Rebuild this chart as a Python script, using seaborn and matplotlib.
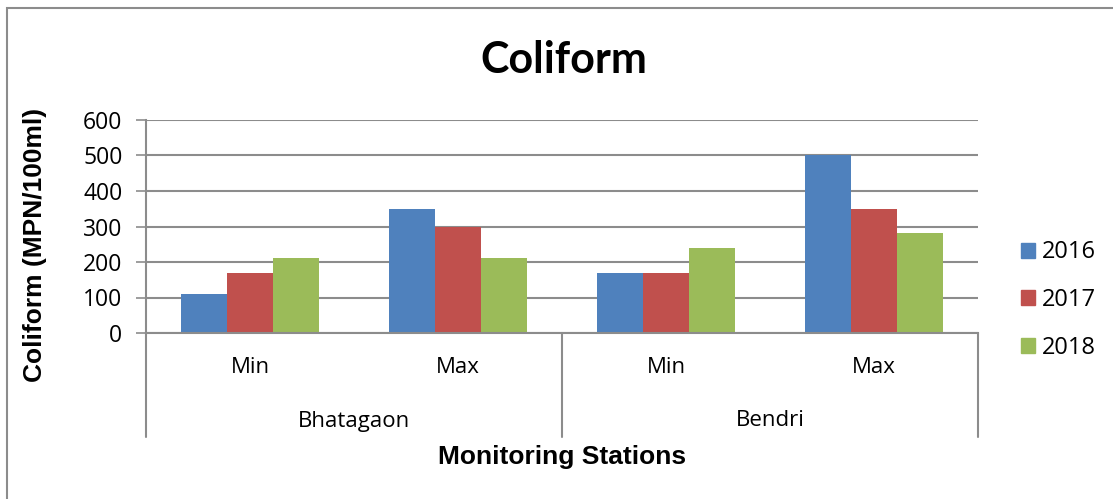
import numpy as np
import pandas as pd
import matplotlib.pyplot as plt
import seaborn as sns
from matplotlib.patches import Rectangle
from matplotlib.transforms import blended_transform_factory

sns.set_theme(style="white")
plt.rcParams['font.family'] = ['Open Sans', 'DejaVu Sans']
plt.rcParams['text.color'] = 'black'
plt.rcParams['xtick.labelcolor'] = 'black'
plt.rcParams['ytick.labelcolor'] = 'black'

# ------------------------------------------------------------------
# Data
# ------------------------------------------------------------------
stations = ['Bhatagaon', 'Bhatagaon', 'Bendri', 'Bendri']
stats = ['Min', 'Max', 'Min', 'Max']
years = ['2016', '2017', '2018']
vals_2016 = [110, 350, 170, 500]
vals_2017 = [170, 300, 170, 350]
vals_2018 = [210, 210, 240, 283]
colors = ['#4F81BD', '#C0504D', '#9BBB59']

keys = [f"{s}|{m}" for s, m in zip(stations, stats)]
rows = []
for year, vals in zip(years, [vals_2016, vals_2017, vals_2018]):
    for k, v in zip(keys, vals):
        rows.append({'Key': k, 'Year': year, 'Value': v})
df = pd.DataFrame(rows)

W, H = 1113, 499
fig = plt.figure(figsize=(W / 100, H / 100), dpi=100)
fig.patch.set_facecolor('white')

# outer chart border (only top/left visible in the reference)
fig.patches.append(Rectangle((7 / W, -0.1), 1.2, 1.1 - 8 / H,
                             transform=fig.transFigure, fill=False,
                             edgecolor='#8c8c8c', linewidth=1.5))

ax = fig.add_axes([146 / W, 1 - 333 / H, (978 - 146) / W, (333 - 120) / H])
sns.barplot(data=df, x='Key', y='Value', hue='Year', order=keys,
            hue_order=years, palette=colors, saturation=1, width=0.66,
            linewidth=0, ax=ax)
ax.legend_.remove()

ax.set_xlim(-0.5, len(keys) - 0.5)
ax.set_ylim(0, 600)
ax.set_yticks(np.arange(0, 601, 100))
ax.yaxis.grid(True, color='#8c8c8c', linewidth=1.5)
ax.set_axisbelow(True)
for side in ['top', 'right']:
    ax.spines[side].set_visible(False)
for side in ['left', 'bottom']:
    ax.spines[side].set_color('#8c8c8c')
    ax.spines[side].set_linewidth(1.5)

ax.tick_params(axis='y', length=7, width=1.2, color='#8c8c8c',
               labelsize=16.5, pad=10, left=True, labelcolor='black')
ax.tick_params(axis='x', length=0, labelsize=16, pad=17, labelcolor='black')
ax.set_xticks(range(len(keys)))
ax.set_xticklabels(stats)
ax.set_xlabel('')
ax.set_ylabel('')

# multi-level category axis: separators and station names
trans = blended_transform_factory(ax.transData, ax.transAxes)
sep_bottom = -(437 - 333) / (333 - 120)
for xs in [-0.5, 1.5, 3.5]:
    ax.plot([xs, xs], [0, sep_bottom], color='#8c8c8c', linewidth=1.5,
            transform=trans, clip_on=False)
group_y = -(421 - 333) / (333 - 120)
for name, xc in [('Bhatagaon', 0.5), ('Bendri', 2.5)]:
    ax.text(xc, group_y, name, transform=trans, ha='center', va='center',
            fontsize=16, color='black')

# titles
fig.text(564 / W, 1 - 60 / H, 'Coliform', ha='center', va='center',
         fontsize=31, fontweight='bold', color='black',
         family=['Lato', 'DejaVu Sans'])
fig.text(562 / W, 1 - 457 / H, 'Monitoring Stations', ha='center',
         va='center', fontsize=19, fontweight='bold', color='black',
         family=['Liberation Sans', 'DejaVu Sans'])
fig.text(35 / W, 1 - 245 / H, 'Coliform (MPN/100ml)', ha='center',
         va='center', rotation=90, fontsize=19, fontweight='bold',
         color='black', family=['Liberation Sans', 'DejaVu Sans'])

# legend
handles = [Rectangle((0, 0), 1, 1, color=c) for c in colors]
fig.legend(handles, years, loc='center left',
           bbox_to_anchor=(1021 / W, 1 - 300 / H), frameon=False,
           fontsize=17, handlelength=0.6, handleheight=0.6,
           handletextpad=0.3, labelspacing=1.0, borderpad=0,
           borderaxespad=0, labelcolor='black')

plt.savefig('out.png', dpi=100)
plt.close()
